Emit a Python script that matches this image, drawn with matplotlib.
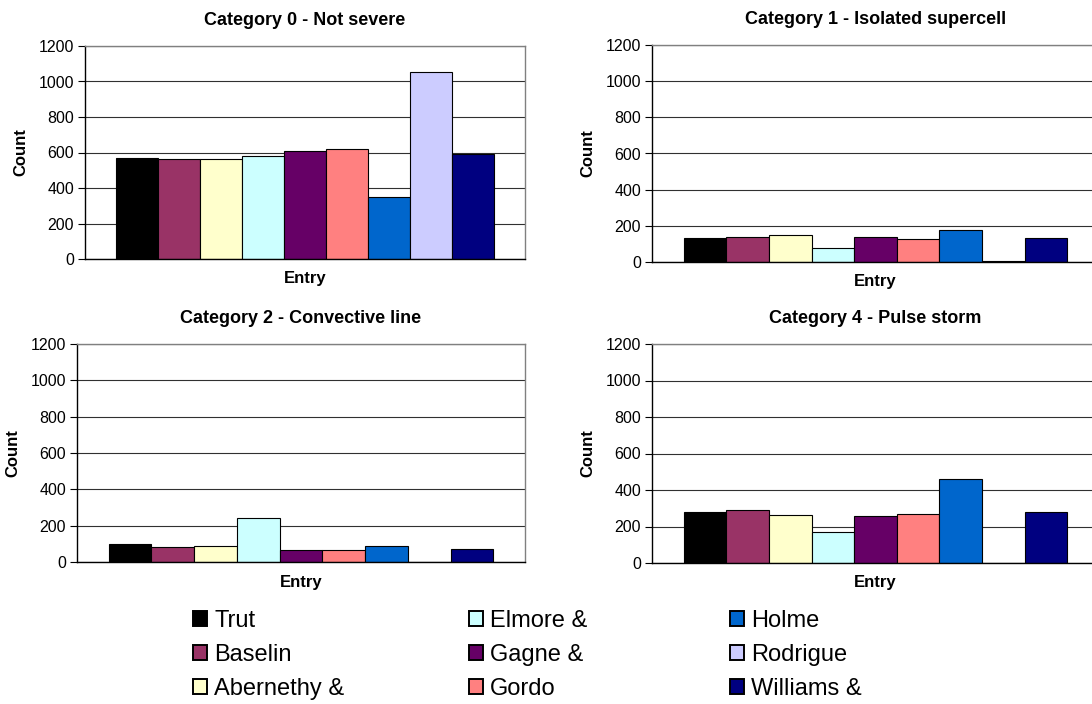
""" Storm category counts per entry, four panels with a shared legend. """
import matplotlib
matplotlib.use('Agg')
import matplotlib.pyplot as plt
import numpy as np

plt.rcParams['font.family'] = ['Liberation Sans', 'DejaVu Sans']

# data
entries = ['Trut', 'Baselin', 'Abernethy &', 'Elmore &', 'Gagne &',
           'Gordo', 'Holme', 'Rodrigue', 'Williams &']
colors = ['#000000', '#993366', '#FFFFCC', '#CCFFFF', '#660066',
          '#FF8080', '#0066CC', '#CCCCFF', '#000080']

titles = ['Category 0 - Not severe', 'Category 1 - Isolated supercell',
          'Category 2 - Convective line', 'Category 4 - Pulse storm']
cat0 = [570, 562, 562, 583, 607, 620, 347, 1054, 589]
cat1 = [133, 138, 151, 79, 138, 127, 179, 7, 131]
cat2 = [97, 84, 90, 244, 66, 66, 90, 0, 72]
cat4 = [277, 293, 262, 168, 257, 268, 459, 0, 277]
counts = [cat0, cat1, cat2, cat4]

yticks = [0, 200, 400, 600, 800, 1000, 1200]

W, H = 1092, 704
# axes boxes in pixels: left, top, right, bottom
boxes = [(85, 46, 525, 259),
         (652, 45, 1099, 262),
         (77, 344, 525, 562),
         (652, 344, 1099, 563)]

fig = plt.figure(figsize=(W / 100, H / 100), dpi=100)

handles = None
for box, title, vals in zip(boxes, titles, counts):
    l, t, r, b = box
    ax = fig.add_axes([l / W, 1 - b / H, (r - l) / W, (b - t) / H])
    x = np.arange(len(entries))
    bars = ax.bar(x, vals, width=1.0, color=colors, edgecolor='black',
                  linewidth=0.8, zorder=2)
    if handles is None:
        handles = bars.patches
    ax.set_xlim(-1.24, len(entries) - 1 + 1.24)
    ax.set_ylim(0, 1200)
    ax.set_yticks(yticks)
    ax.set_xticks([])
    ax.yaxis.grid(True, color='#303030', linewidth=0.8)
    ax.set_axisbelow(True)
    ax.tick_params(axis='y', labelsize=11.5, length=5, width=0.8, pad=3)
    for side in ['top', 'right']:
        ax.spines[side].set_color('#808080')
        ax.spines[side].set_linewidth(1.0)
    for side in ['left', 'bottom']:
        ax.spines[side].set_color('black')
        ax.spines[side].set_linewidth(1.0)
    ax.set_title(title, fontsize=13, fontweight='bold', pad=15)
    ax.set_ylabel('Count', fontsize=12, fontweight='bold', labelpad=7)
    ax.set_xlabel('Entry', fontsize=12, fontweight='bold', labelpad=9)

# legend, three columns placed by hand
col_x = [193, 469, 730]
for i, cx in enumerate(col_x):
    leg = fig.legend(handles[i * 3:(i + 1) * 3], entries[i * 3:(i + 1) * 3],
                     loc='upper left', bbox_to_anchor=(cx / W, 1 - 610 / H),
                     frameon=False, fontsize=17, borderpad=0, borderaxespad=0,
                     handlelength=0.6, handleheight=0.6, handletextpad=0.3,
                     labelspacing=0.5)
    for patch in leg.get_patches():
        patch.set_linewidth(1.4)

fig.savefig('out.png', dpi=100)
